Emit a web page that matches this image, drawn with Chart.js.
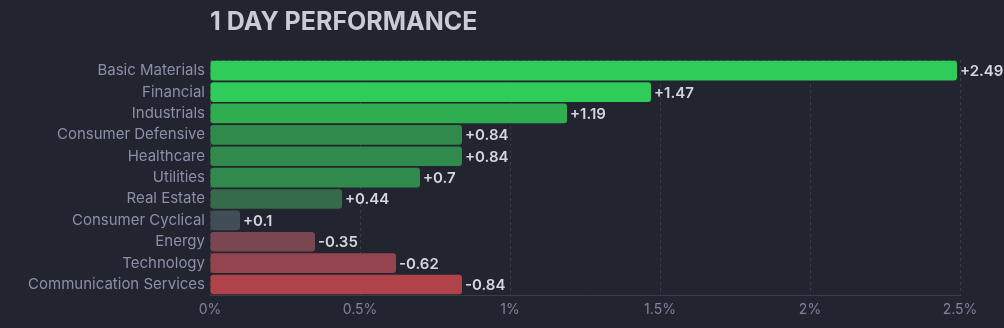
<!DOCTYPE html>
<html>
<head>
<meta charset="utf-8">
<script src="https://cdn.jsdelivr.net/npm/chart.js@4"></script>
<style>
  html, body { margin: 0; padding: 0; background: #22252f; }
  #wrap { width: 1004px; height: 328px; }
</style>
</head>
<body>
<div id="wrap"><canvas id="c" width="1004" height="328"></canvas></div>
<script>
const categories = ["Basic Materials", "Financial", "Industrials", "Consumer Defensive", "Healthcare", "Utilities", "Real Estate", "Consumer Cyclical", "Energy", "Technology", "Communication Services"];
const changes = [2.49, 1.47, 1.19, 0.84, 0.84, 0.7, 0.44, 0.1, -0.35, -0.62, -0.84];
const barColors = ["#30cc5a", "#30cc5a", "#2eae4f", "#2f8a4b", "#2f8a4b", "#2f8a4b", "#356b4a", "#414d57", "#7a4652", "#94444f", "#b0434a"];
const xTicks = [0, 0.5, 1, 1.5, 2, 2.5];

const fontFamily = "Inter, 'Noto Sans', sans-serif";

const valueLabels = {
  id: 'valueLabels',
  afterDatasetsDraw(chart) {
    const ctx = chart.ctx;
    const meta = chart.getDatasetMeta(0);
    ctx.save();
    ctx.font = "600 15px " + fontFamily;
    ctx.fillStyle = "#d3d5df";
    ctx.textAlign = "left";
    ctx.textBaseline = "middle";
    meta.data.forEach((el, i) => {
      const v = changes[i];
      const txt = (v >= 0 ? "+" : "-") + Math.abs(v);
      ctx.fillText(txt, el.x + 3, el.y + 1);
    });
    ctx.restore();
  }
};

new Chart(document.getElementById('c'), {
  type: 'bar',
  data: {
    labels: categories,
    datasets: [{
      data: changes.map(v => Math.abs(v)),
      backgroundColor: barColors,
      borderRadius: 3,
      borderSkipped: false,
      categoryPercentage: 1,
      barPercentage: 0.92
    }]
  },
  options: {
    indexAxis: 'y',
    responsive: false,
    animation: false,
    layout: { padding: { left: 0, right: 44, top: 0, bottom: 4 } },
    plugins: {
      legend: { display: false },
      tooltip: { enabled: false },
      title: {
        display: true,
        text: "1 DAY PERFORMANCE",
        align: 'start',
        fullSize: false,
        color: "#c9cbd6",
        font: { family: fontFamily, size: 25, weight: 'bold' },
        padding: { top: 7, bottom: 23 }
      }
    },
    scales: {
      x: {
        min: 0, max: 2.5,
        afterBuildTicks: (s) => { s.ticks = xTicks.map(v => ({ value: v })); },
        ticks: {
          color: "#7f849b",
          font: { family: fontFamily, size: 14 },
          padding: 6,
          callback: (v) => v + "%"
        },
        grid: { color: "#393d4a", drawTicks: false, tickBorderDash: [3, 3] },
        border: { display: true, color: "#393d4a", dash: [3, 3] }
      },
      y: {
        afterFit: (s) => { s.width = 210; },
        ticks: {
          color: "#8b90a9",
          font: { family: fontFamily, size: 15 },
          padding: 5
        },
        grid: {
          offset: true,
          drawTicks: false,
          color: (c) => (c.index === 0 || c.index === categories.length) ? "#393d4a" : "rgba(0,0,0,0)"
        },
        border: { display: false, dash: [3, 3] }
      }
    }
  },
  plugins: [valueLabels]
});
</script>
</body>
</html>
